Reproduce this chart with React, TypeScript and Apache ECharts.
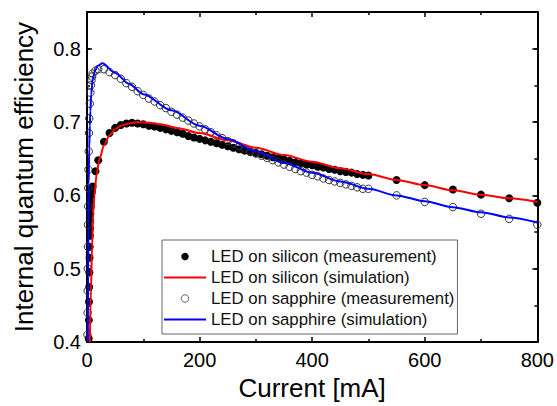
import React, { useEffect, useRef } from 'react';
import * as echarts from 'echarts';

// LED on silicon (measurement)
const siMeasCurrent = [3, 3.3, 3.6, 3.9, 4.2, 4.5, 4.8, 5.1, 5.4, 5.7, 6, 6.5, 7, 7.5, 8, 8.5, 9, 10, 15, 20, 30, 40, 50,
  60, 70, 80, 90, 100, 110, 120, 130, 140, 150, 160, 170, 180, 190, 200, 210, 220, 230, 240, 250, 260, 270, 280, 290,
  300, 310, 320, 330, 340, 350, 360, 370, 380, 390, 400, 410, 420, 430, 440, 450, 460, 470, 480, 490, 500,
  550, 600, 650, 700, 750, 800];
const siMeasIqe = [0.405, 0.43, 0.455, 0.475, 0.495, 0.515, 0.53, 0.545, 0.555, 0.565, 0.575, 0.585, 0.592, 0.598, 0.603, 0.606, 0.608, 0.612, 0.633, 0.648, 0.673, 0.685, 0.692,
  0.696, 0.698, 0.699, 0.698, 0.697, 0.695, 0.694, 0.692, 0.690, 0.688, 0.686, 0.684, 0.681, 0.679, 0.677, 0.675, 0.673, 0.671, 0.669, 0.667, 0.665, 0.663, 0.661, 0.659,
  0.658, 0.656, 0.654, 0.652, 0.651, 0.649, 0.647, 0.645, 0.644, 0.642, 0.641, 0.639, 0.638, 0.636, 0.635, 0.633, 0.632, 0.631, 0.629, 0.628, 0.627,
  0.621, 0.614, 0.608, 0.601, 0.596, 0.590];

// LED on silicon (simulation)
const siSimCurrent = [5, 7, 9, 11, 13, 17, 22, 30, 40, 50, 60, 75, 90, 110, 130, 160, 200, 250, 300, 350, 400, 450, 500, 550, 600, 650, 700, 750, 800];
const siSimIqe = [0.40, 0.47, 0.53, 0.575, 0.60, 0.628, 0.649, 0.668, 0.682, 0.690, 0.695, 0.698, 0.700, 0.699, 0.697, 0.692, 0.685, 0.675, 0.665, 0.655, 0.646, 0.637, 0.629, 0.621, 0.614, 0.607, 0.601, 0.596, 0.591];

// LED on sapphire (measurement)
const saMeasCurrent = [0.8, 1, 1.2, 1.4, 1.6, 1.8, 2, 2.3, 2.6, 3, 3.5, 4, 5, 6, 7, 8, 9, 10, 15, 20, 30, 40, 50,
  60, 70, 80, 90, 100, 110, 120, 130, 140, 150, 160, 170, 180, 190, 200, 210, 220, 230, 240, 250, 260, 270, 280, 290,
  300, 310, 320, 330, 340, 350, 360, 370, 380, 390, 400, 410, 420, 430, 440, 450, 460, 470, 480, 490, 500,
  550, 600, 650, 700, 750, 800];
const saMeasIqe = [0.41, 0.44, 0.47, 0.50, 0.53, 0.56, 0.585, 0.61, 0.635, 0.66, 0.685, 0.705, 0.725, 0.74, 0.75, 0.757, 0.762, 0.766, 0.770, 0.772, 0.772, 0.768, 0.764,
  0.759, 0.753, 0.748, 0.742, 0.737, 0.732, 0.728, 0.723, 0.719, 0.714, 0.710, 0.706, 0.702, 0.698, 0.694, 0.690, 0.686, 0.682, 0.678, 0.674, 0.671, 0.667, 0.664, 0.660,
  0.657, 0.654, 0.651, 0.648, 0.645, 0.642, 0.639, 0.636, 0.633, 0.631, 0.628, 0.626, 0.623, 0.621, 0.619, 0.617, 0.615, 0.613, 0.611, 0.609, 0.609,
  0.600, 0.591, 0.584, 0.575, 0.568, 0.560];

// LED on sapphire (simulation)
const saSimCurrent = [1.5, 2, 2.5, 3, 4, 5, 6, 7.5, 10, 14, 20, 27, 50, 75, 100, 150, 200, 250, 300, 350, 400, 450, 500, 550, 600, 650, 700, 750, 800];
const saSimIqe = [0.40, 0.49, 0.56, 0.615, 0.665, 0.695, 0.715, 0.738, 0.758, 0.770, 0.777, 0.780, 0.767, 0.752, 0.738, 0.716, 0.695, 0.677, 0.660, 0.644, 0.631, 0.619, 0.609, 0.600, 0.592, 0.584, 0.577, 0.570, 0.563];

const xTicks = { min: 0, max: 800, interval: 200 };
const yTicks = { min: 0.4, max: 0.85, major: 0.1, minor: 0.05 };

const names = [
  'LED on silicon (measurement)',
  'LED on silicon (simulation)',
  'LED on sapphire (measurement)',
  'LED on sapphire (simulation)',
];

const pairs = (xs: number[], ys: number[]) => xs.map((x, i) => [x, ys[i]]);

const FONT = '"Liberation Sans", Arial, sans-serif';
const LINE_ICON = 'path://M0,0H42V2H0Z';

export default function App() {
  const ref = useRef<HTMLDivElement>(null);
  useEffect(() => {
    if (!ref.current) return;
    const chart = echarts.init(ref.current, null, { renderer: 'svg' });
    const yBase = {
      type: 'value' as const,
      min: yTicks.min,
      max: yTicks.max,
      splitLine: { show: false },
    };
    chart.setOption({
      animation: false,
      backgroundColor: '#fff',
      textStyle: { fontFamily: FONT },
      grid: { left: 87, right: 16, top: 12, bottom: 60 },
      xAxis: [
        {
          type: 'value', min: xTicks.min, max: xTicks.max, interval: xTicks.interval, position: 'bottom',
          axisLine: { show: true, lineStyle: { color: '#000', width: 2 } },
          axisTick: { show: true, inside: true, length: 5, lineStyle: { color: '#000', width: 1.5 } },
          minorTick: { show: true, splitNumber: 2, length: 3, lineStyle: { color: '#000', width: 1.5 } },
          axisLabel: { fontSize: 20, color: '#000', margin: 8, fontFamily: FONT },
          splitLine: { show: false },
          name: 'Current [mA]', nameLocation: 'middle', nameGap: 27,
          nameTextStyle: { fontSize: 26, color: '#000', fontFamily: FONT },
        },
        {
          type: 'value', min: xTicks.min, max: xTicks.max, interval: xTicks.interval, position: 'top',
          axisLine: { show: true, lineStyle: { color: '#000', width: 2 } },
          axisTick: { show: true, inside: true, length: 5, lineStyle: { color: '#000', width: 1.5 } },
          minorTick: { show: true, splitNumber: 2, length: 3, lineStyle: { color: '#000', width: 1.5 } },
          axisLabel: { show: false },
          splitLine: { show: false },
        },
      ],
      yAxis: [
        {
          ...yBase, interval: yTicks.major, position: 'left',
          axisLine: { show: true, lineStyle: { color: '#000', width: 2 } },
          axisTick: { show: true, inside: true, length: 5, lineStyle: { color: '#000', width: 1.5 } },
          axisLabel: {
            fontSize: 20, color: '#000', margin: 6, fontFamily: FONT, showMaxLabel: false,
            formatter: (v: number) => (Math.abs(v - yTicks.max) < 1e-9 ? '' : v.toFixed(1)),
          },
          name: 'Internal quantum efficiency', nameLocation: 'middle', nameGap: 50,
          nameTextStyle: { fontSize: 26, color: '#000', fontFamily: FONT },
        },
        {
          ...yBase, interval: yTicks.minor, position: 'left',
          axisLine: { show: false },
          axisTick: { show: true, inside: true, length: 3, lineStyle: { color: '#000', width: 1.5 } },
          axisLabel: { show: false },
        },
        {
          ...yBase, interval: yTicks.major, position: 'right',
          axisLine: { show: true, lineStyle: { color: '#000', width: 2 } },
          axisTick: { show: true, inside: true, length: 5, lineStyle: { color: '#000', width: 1.5 } },
          axisLabel: { show: false },
        },
        {
          ...yBase, interval: yTicks.minor, position: 'right',
          axisLine: { show: false },
          axisTick: { show: true, inside: true, length: 3, lineStyle: { color: '#000', width: 1.5 } },
          axisLabel: { show: false },
        },
      ],
      legend: {
        orient: 'vertical',
        left: 162, top: 240,
        data: [
          { name: names[0] },
          { name: names[1], icon: LINE_ICON },
          { name: names[2], itemStyle: { borderColor: '#666', borderWidth: 1 } },
          { name: names[3], icon: LINE_ICON },
        ],
        itemWidth: 42, itemHeight: 7.5, itemGap: 4,
        padding: [8, 3, 6, 2],
        borderColor: '#666', borderWidth: 1,
        backgroundColor: '#fff',
        textStyle: { fontSize: 16.8, color: '#111', fontFamily: FONT, padding: [0, 0, 0, 0] },
      },
      series: [
        {
          name: names[0], type: 'scatter', data: pairs(siMeasCurrent, siMeasIqe),
          symbol: 'circle', symbolSize: 8, itemStyle: { color: '#000', opacity: 1 }, z: 2,
        },
        {
          name: names[2], type: 'scatter', data: pairs(saMeasCurrent, saMeasIqe),
          symbol: 'circle', symbolSize: 7.5,
          itemStyle: { color: 'rgba(255,255,255,0)', borderColor: '#333', borderWidth: 1, opacity: 1 }, z: 2,
        },
        {
          name: names[1], type: 'line', data: pairs(siSimCurrent, siSimIqe),
          symbol: 'none', smooth: 0.3, smoothMonotone: 'x',
          lineStyle: { color: '#ff0000', width: 2 }, itemStyle: { color: '#ff0000' }, z: 3,
        },
        {
          name: names[3], type: 'line', data: pairs(saSimCurrent, saSimIqe),
          symbol: 'none', smooth: 0.3, smoothMonotone: 'x',
          lineStyle: { color: '#0000ff', width: 2 }, itemStyle: { color: '#0000ff' }, z: 3,
        },
      ],
    });
    return () => chart.dispose();
  }, []);
  return <div ref={ref} style={{ position: 'fixed', left: 0, top: 0, width: 557, height: 406 }} />;
}
